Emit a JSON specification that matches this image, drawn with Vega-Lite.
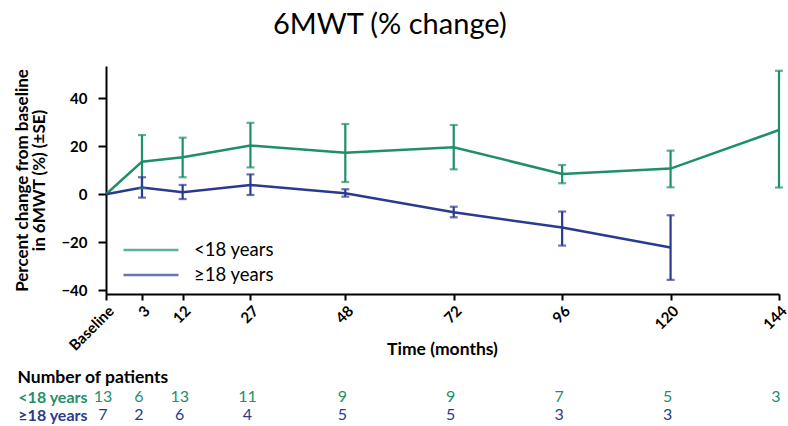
{
  "$schema": "https://vega.github.io/schema/vega-lite/v6.json",
  "padding": {"left": 13, "right": 0, "top": 11, "bottom": 0},
  "config": {"font": "Lato", "view": {"stroke": null}, "concat": {"spacing": 10}},
  "title": {"text": "6MWT (% change)", "fontSize": 29, "fontWeight": "normal", "anchor": "middle", "offset": 26, "dx": -12, "color": "#000000"},
  "datasets": {
    "series": [
      {"group": "<18 years", "month": 0, "mean": 0, "lower": null, "upper": null},
      {"group": "<18 years", "month": 3, "mean": 13.6, "lower": 2.5, "upper": 24.7},
      {"group": "<18 years", "month": 12, "mean": 15.4, "lower": 7.1, "upper": 23.6},
      {"group": "<18 years", "month": 27, "mean": 20.3, "lower": 11.2, "upper": 29.8},
      {"group": "<18 years", "month": 48, "mean": 17.3, "lower": 5.1, "upper": 29.3},
      {"group": "<18 years", "month": 72, "mean": 19.6, "lower": 10.4, "upper": 28.9},
      {"group": "<18 years", "month": 96, "mean": 8.5, "lower": 4.6, "upper": 12.2},
      {"group": "<18 years", "month": 120, "mean": 10.7, "lower": 2.9, "upper": 18.2},
      {"group": "<18 years", "month": 144, "mean": 26.8, "lower": 2.8, "upper": 51.5},
      {"group": "≥18 years", "month": 0, "mean": 0, "lower": null, "upper": null},
      {"group": "≥18 years", "month": 3, "mean": 2.8, "lower": -1.4, "upper": 7.1},
      {"group": "≥18 years", "month": 12, "mean": 0.8, "lower": -2.0, "upper": 3.9},
      {"group": "≥18 years", "month": 27, "mean": 3.9, "lower": -0.3, "upper": 8.3},
      {"group": "≥18 years", "month": 48, "mean": 0.4, "lower": -1.0, "upper": 2.1},
      {"group": "≥18 years", "month": 72, "mean": -7.5, "lower": -9.6, "upper": -5.2},
      {"group": "≥18 years", "month": 96, "mean": -13.9, "lower": -21.4, "upper": -7.2},
      {"group": "≥18 years", "month": 120, "mean": -22.2, "lower": -35.7, "upper": -8.75}
    ],
    "counts": [
      {"group": "<18 years", "month": 0, "n": 13},
      {"group": "<18 years", "month": 3, "n": 6},
      {"group": "<18 years", "month": 12, "n": 13},
      {"group": "<18 years", "month": 27, "n": 11},
      {"group": "<18 years", "month": 48, "n": 9},
      {"group": "<18 years", "month": 72, "n": 9},
      {"group": "<18 years", "month": 96, "n": 7},
      {"group": "<18 years", "month": 120, "n": 5},
      {"group": "<18 years", "month": 144, "n": 3},
      {"group": "≥18 years", "month": 0, "n": 7},
      {"group": "≥18 years", "month": 3, "n": 2},
      {"group": "≥18 years", "month": 12, "n": 6},
      {"group": "≥18 years", "month": 27, "n": 4},
      {"group": "≥18 years", "month": 48, "n": 5},
      {"group": "≥18 years", "month": 72, "n": 5},
      {"group": "≥18 years", "month": 96, "n": 3},
      {"group": "≥18 years", "month": 120, "n": 3}
    ]
  },
  "resolve": {"scale": {"color": "independent"}, "legend": {"color": "independent"}},
  "vconcat": [
    {
      "width": 673,
      "height": 228,
      "data": {"name": "series"},
      "encoding": {
        "x": {
          "field": "month", "type": "quantitative",
          "scale": {"domain": [0, 3, 144], "range": [0, 36, 673]},
          "axis": {
            "values": [0, 3, 12, 27, 48, 72, 96, 120, 144],
            "labelExpr": "datum.value == 0 ? 'Baseline' : datum.label",
            "labelAngle": -45, "labelFontSize": 15, "labelFontWeight": "bold", "labelColor": "#000000",
            "labelFlush": false, "labelOverlap": false, "labelPadding": 3,
            "tickSize": 6, "tickWidth": 2, "tickColor": "#000000",
            "domainWidth": 2, "domainColor": "#000000", "grid": false,
            "title": "Time (months)", "titleFontSize": 17.5, "titleFontWeight": "bold", "titleColor": "#000000",
            "titleY": 46, "titleX": 336
          }
        },
        "color": {
          "field": "group", "type": "nominal",
          "scale": {"domain": ["<18 years", "≥18 years"], "range": ["#1f8f6a", "#2a3b8f"]},
          "legend": {
            "title": null, "orient": "none", "legendX": 16, "legendY": 175, "padding": 0,
            "symbolType": "stroke", "symbolSize": 3025, "symbolStrokeWidth": 2.5, "clipHeight": 18,
            "labelFontSize": 18.5, "labelColor": "#000000", "rowPadding": 6, "labelOffset": 14
          }
        }
      },
      "layer": [
        {
          "mark": {"type": "line", "strokeWidth": 2.5},
          "encoding": {
            "y": {
              "field": "mean", "type": "quantitative",
              "scale": {"domain": [-41.6, 53.5], "nice": false, "zero": false},
              "axis": {
                "values": [-40, -20, 0, 20, 40],
                "labelFontSize": 15, "labelFontWeight": "bold", "labelColor": "#000000", "labelPadding": 11,
                "tickSize": 8, "tickWidth": 2, "tickColor": "#000000",
                "domainWidth": 2, "domainColor": "#000000", "grid": false,
                "title": ["Percent change from baseline", "in 6MWT (%) (±SE)"],
                "titleFontSize": 17, "titleFontWeight": "bold", "titleColor": "#000000", "titlePadding": 12, "titleLineHeight": 17
              }
            }
          }
        },
        {
          "transform": [{"filter": "datum.upper != null"}],
          "mark": {"type": "rule", "strokeWidth": 2.2},
          "encoding": {
            "y": {"field": "lower", "type": "quantitative"},
            "y2": {"field": "upper"}
          }
        },
        {
          "transform": [{"filter": "datum.upper != null"}],
          "mark": {"type": "tick", "orient": "horizontal", "size": 8, "thickness": 2.2},
          "encoding": {"y": {"field": "upper", "type": "quantitative"}}
        },
        {
          "transform": [{"filter": "datum.upper != null"}],
          "mark": {"type": "tick", "orient": "horizontal", "size": 8, "thickness": 2.2},
          "encoding": {"y": {"field": "lower", "type": "quantitative"}}
        }
      ]
    },
    {
      "width": 673,
      "height": 36,
      "data": {"name": "counts"},
      "title": {"text": "Number of patients", "anchor": "start", "frame": "bounds", "fontSize": 17.5, "fontWeight": "bold", "color": "#000000", "offset": 2},
      "mark": {"type": "text", "fontSize": 16, "dx": -3},
      "encoding": {
        "x": {"field": "month", "type": "quantitative", "scale": {"domain": [0, 3, 144], "range": [0, 36, 673]}, "axis": null},
        "y": {
          "field": "group", "type": "nominal",
          "scale": {"domain": ["<18 years", "≥18 years"]},
          "axis": {
            "title": null, "domain": false, "ticks": false, "labelFontSize": 16, "labelFontWeight": "bold", "labelPadding": 19,
            "labelColor": {"expr": "datum.value == '<18 years' ? '#1f8f6a' : '#2a3b8f'"}
          }
        },
        "text": {"field": "n", "type": "quantitative"},
        "color": {
          "field": "group", "type": "nominal",
          "scale": {"domain": ["<18 years", "≥18 years"], "range": ["#1f8f6a", "#2a3b8f"]},
          "legend": null
        }
      }
    }
  ]
}
